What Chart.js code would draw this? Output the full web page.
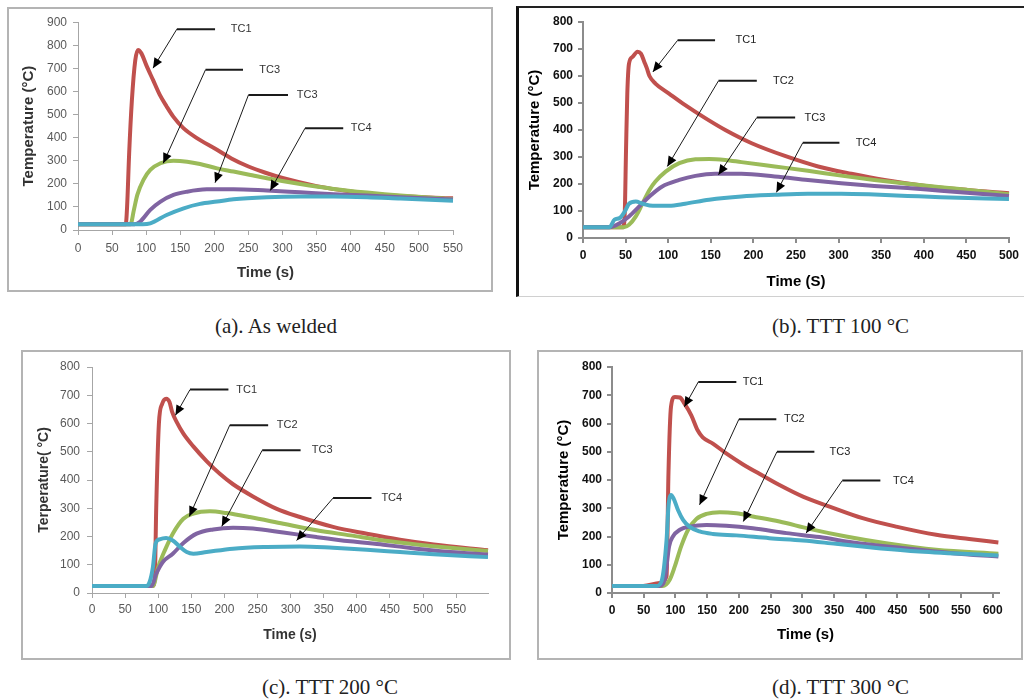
<!DOCTYPE html>
<html>
<head>
<meta charset="utf-8">
<script src="https://cdn.jsdelivr.net/npm/chart.js@4.4.1/dist/chart.umd.min.js"></script>
<style>
  body { margin: 0; background: #fff; width: 1024px; height: 700px; position: relative; overflow: hidden; }
  .frame { position: absolute; box-sizing: border-box; }
  canvas { position: absolute; }
  .cap { position: absolute; font-family: "Liberation Serif", "Times New Roman", serif; font-size: 21px; line-height: 21px; color: #222; white-space: nowrap; }
</style>
</head>
<body>

<div class="frame" style="left:7px;top:7px;width:486px;height:285px;border:2px solid #b4b4b4"></div>
<div class="frame" style="left:516px;top:6px;width:520px;height:291px;border-left:3px solid #111;border-top:2px solid #222;border-bottom:1px solid #d0d0d0"></div>
<div class="frame" style="left:21px;top:350px;width:490px;height:310px;border:2px solid #b4b4b4"></div>
<div class="frame" style="left:537px;top:350px;width:486px;height:310px;border:2px solid #b4b4b4"></div>

<canvas id="chartA" width="482" height="281" style="left:9px;top:9px"></canvas>
<canvas id="chartB" width="505" height="288" style="left:519px;top:8px"></canvas>
<canvas id="chartC" width="486" height="306" style="left:23px;top:352px"></canvas>
<canvas id="chartD" width="482" height="306" style="left:539px;top:352px"></canvas>

<div class="cap" style="left:215px;top:316px">(a). As welded</div>
<div class="cap" style="left:772px;top:316px">(b). TTT 100 °C</div>
<div class="cap" style="left:262px;top:677px">(c). TTT 200 °C</div>
<div class="cap" style="left:772px;top:677px">(d). TTT 300 °C</div>

<script>
// tick labels
const xTicksA = [0, 50, 100, 150, 200, 250, 300, 350, 400, 450, 500, 550];
const xTicksB = [0, 50, 100, 150, 200, 250, 300, 350, 400, 450, 500];
const xTicksC = [0, 50, 100, 150, 200, 250, 300, 350, 400, 450, 500, 550];
const xTicksD = [0, 50, 100, 150, 200, 250, 300, 350, 400, 450, 500, 550, 600];
const yTicks900 = [0, 100, 200, 300, 400, 500, 600, 700, 800, 900];
const yTicks800 = [0, 100, 200, 300, 400, 500, 600, 700, 800];

// (a) As welded
const timeA1 = [0, 70, 72, 75, 79, 84, 88, 93, 100, 110, 120, 130, 140, 155, 175, 200, 225, 250, 275, 300, 350, 400, 450, 500, 550];
const tempA1 = [25, 25, 100, 330, 560, 735, 780, 765, 715, 650, 585, 535, 490, 440, 397, 354, 310, 275, 248, 225, 190, 167, 152, 143, 137];
const timeA2 = [0, 77, 82, 87, 96, 106, 121, 140, 160, 179, 204, 228, 253, 277, 326, 375, 424, 473, 550];
const tempA2 = [25, 25, 87, 152, 217, 260, 289, 300, 296, 286, 267, 253, 238, 224, 199, 178, 162, 149, 134];
const timeA3 = [0, 83, 91, 106, 121, 140, 160, 189, 228, 277, 326, 375, 424, 473, 550];
const tempA3 = [25, 25, 36, 87, 123, 152, 166, 176, 177, 171, 163, 155, 149, 142, 132];
const timeA4 = [0, 95, 106, 130, 155, 179, 204, 228, 277, 326, 375, 424, 473, 550];
const tempA4 = [25, 25, 29, 65, 94, 113, 123, 133, 142, 145, 145, 142, 136, 127];

// (b) TTT 100 °C
const timeB1 = [0, 47, 49, 50.5, 52, 54, 58, 64, 68, 72, 75, 78, 85, 101, 120, 144, 167, 198, 237, 276, 315, 354, 400, 451, 500];
const tempB1 = [40, 40, 92, 326, 535, 646, 670, 690, 683, 652, 628, 600, 572, 535, 492, 443, 400, 351, 304, 265, 238, 215, 194, 178, 166];
const timeB2 = [0, 48, 54, 62, 70, 78, 85, 97, 113, 132, 148, 167, 186, 225, 264, 303, 342, 381, 420, 458, 500];
const tempB2 = [40, 40, 49, 80, 129, 178, 209, 246, 277, 292, 293, 289, 281, 265, 249, 231, 215, 201, 188, 176, 162];
const timeB3 = [0, 31, 43, 54, 66, 78, 93, 113, 132, 155, 186, 225, 264, 303, 342, 381, 420, 500];
const tempB3 = [40, 40, 55, 80, 117, 154, 191, 215, 230, 238, 238, 228, 215, 203, 193, 185, 175, 156];
const timeB4 = [0, 31, 37, 43, 49, 54, 62, 70, 82, 101, 120, 148, 186, 225, 264, 303, 342, 381, 420, 500];
const tempB4 = [40, 40, 68, 74, 98, 127, 135, 127, 119, 119, 127, 142, 154, 160, 164, 164, 161, 156, 151, 144];

// (c) TTT 200 °C
const timeC1 = [0, 92, 95, 97, 101, 106, 112, 117, 121, 128, 138, 153, 173, 193, 213, 243, 279, 314, 364, 415, 465, 516, 598];
const tempC1 = [25, 25, 68, 304, 599, 670, 688, 676, 641, 605, 564, 519, 467, 422, 385, 342, 298, 269, 234, 210, 189, 172, 151];
const timeC2 = [0, 92, 100, 110, 122, 138, 153, 178, 203, 238, 289, 339, 390, 440, 490, 541, 598];
const tempC2 = [25, 25, 92, 151, 210, 263, 281, 289, 283, 269, 245, 222, 204, 186, 172, 160, 149];
const timeC3 = [0, 90, 97, 107, 122, 138, 158, 183, 213, 243, 289, 339, 390, 440, 490, 541, 598];
const tempC3 = [25, 25, 68, 110, 139, 177, 210, 225, 231, 228, 214, 198, 183, 171, 157, 145, 136];
const timeC4 = [0, 82, 87, 92, 96, 102, 112, 122, 133, 143, 153, 173, 213, 264, 314, 364, 415, 465, 516, 598];
const tempC4 = [25, 25, 39, 92, 175, 190, 195, 186, 163, 145, 139, 145, 157, 163, 165, 160, 153, 145, 137, 127];

// (d) TTT 300 °C
const timeD1 = [0, 49, 75, 86, 89, 93, 99, 107, 114, 125, 135, 143, 159, 180, 206, 233, 264, 301, 343, 395, 448, 511, 563, 609];
const tempD1 = [25, 25, 35, 59, 424, 659, 694, 692, 671, 629, 576, 551, 529, 494, 456, 421, 382, 341, 306, 265, 235, 206, 191, 179];
const timeD2 = [0, 80, 91, 99, 109, 120, 133, 149, 170, 196, 222, 264, 311, 369, 432, 511, 609];
const tempD2 = [25, 25, 47, 94, 165, 224, 262, 280, 286, 282, 271, 253, 227, 200, 176, 153, 139];
const timeD3 = [0, 75, 83, 90, 96, 107, 122, 149, 180, 222, 275, 327, 380, 458, 537, 609];
const tempD3 = [25, 25, 47, 165, 200, 224, 235, 241, 238, 229, 212, 198, 179, 159, 141, 129];
const timeD4 = [0, 70, 78, 86, 89, 93, 97, 104, 112, 122, 138, 159, 196, 248, 301, 353, 406, 484, 609];
const tempD4 = [25, 25, 41, 188, 306, 347, 335, 294, 259, 235, 218, 209, 204, 194, 186, 174, 162, 147, 133];

// callouts: label, line start x, line end x, line y, label x, arrow tip x, arrow tip y (data units)
const notesA = [
  ['TC1', 145, 201, 870, 224, 110, 701],
  ['TC3', 187, 242, 694, 266, 125, 289],
  ['TC3', 250, 308, 585, 321, 201, 205],
  ['TC4', 333, 389, 441, 400, 282, 171]
];
const notesB = [
  ['TC1', 111, 155, 732, 179, 82, 615],
  ['TC2', 159, 204, 582, 223, 99, 265],
  ['TC3', 204, 249, 446, 260, 159, 234],
  ['TC4', 258, 301, 353, 320, 227, 169]
];
const notesC = [
  ['TC1', 148, 206, 720, 218, 126, 629],
  ['TC2', 208, 266, 594, 279, 147, 271],
  ['TC3', 257, 315, 505, 332, 196, 236],
  ['TC4', 364, 422, 336, 437, 309, 186]
];
const notesD = [
  ['TC1', 136, 196, 747, 206, 114, 659],
  ['TC2', 200, 259, 615, 271, 138, 312],
  ['TC3', 260, 319, 500, 343, 207, 253],
  ['TC4', 363, 423, 398, 443, 306, 212]
];

const colors = ['#C0504D', '#9BBB59', '#8064A2', '#4BACC6'];

function pts(times, temps) {
  return times.map((t, i) => ({ x: t, y: temps[i] }));
}

// callout lines with arrow heads
const calloutPlugin = {
  id: 'callouts',
  afterDatasetsDraw(chart, args, opts) {
    const { ctx } = chart;
    const xs = chart.scales.x, ys = chart.scales.y;
    ctx.save();
    opts.notes.forEach(n => {
      const px1 = xs.getPixelForValue(n[1]);
      const px2 = xs.getPixelForValue(n[2]);
      const py = ys.getPixelForValue(n[3]);
      const tx = xs.getPixelForValue(n[5]);
      const ty = ys.getPixelForValue(n[6]);
      ctx.strokeStyle = '#1a1a1a';
      ctx.lineWidth = 2;
      ctx.beginPath();
      ctx.moveTo(px1, py);
      ctx.lineTo(px2, py);
      ctx.stroke();
      ctx.lineWidth = 1;
      ctx.beginPath();
      ctx.moveTo(px1, py);
      ctx.lineTo(tx, ty);
      ctx.stroke();
      const a = Math.atan2(ty - py, tx - px1);
      const L = 10, W = 4.5;
      const bx = tx - L * Math.cos(a), by = ty - L * Math.sin(a);
      ctx.fillStyle = '#000';
      ctx.beginPath();
      ctx.moveTo(tx, ty);
      ctx.lineTo(bx + W * Math.sin(a), by - W * Math.cos(a));
      ctx.lineTo(bx - W * Math.sin(a), by + W * Math.cos(a));
      ctx.closePath();
      ctx.fill();
      ctx.fillStyle = opts.color;
      ctx.font = opts.font;
      ctx.textBaseline = 'middle';
      ctx.textAlign = 'left';
      ctx.fillText(n[0], xs.getPixelForValue(n[4]), py);
    });
    ctx.restore();
  }
};

function makeChart(id, p) {
  const cv = document.getElementById(id);
  const W = cv.width, H = cv.height;
  const lh = p.titleSize * 1.2;
  const tickFont = { family: 'Liberation Sans', size: p.tickSize, weight: p.tickWeight };
  const titleFont = { family: 'Liberation Sans', size: p.titleSize, weight: 'bold' };
  const axisGrid = { display: true, drawOnChartArea: false, drawTicks: true, tickLength: 5, color: p.axisColor, lineWidth: p.axisWidth };
  const axisBorder = { display: true, color: p.axisColor, width: p.axisWidth };

  new Chart(cv, {
    type: 'line',
    data: {
      datasets: p.series.map((s, i) => ({
        label: 'TC' + (i + 1),
        data: pts(s[0], s[1]),
        borderColor: colors[i],
        backgroundColor: colors[i],
        borderWidth: 4,
        pointRadius: 0,
        fill: false,
        cubicInterpolationMode: 'monotone',
        clip: 3,
        order: 4 - i
      }))
    },
    options: {
      responsive: false,
      animation: false,
      events: [],
      layout: { padding: { left: 0, bottom: 0, top: p.plot[1], right: W - p.plot[2] } },
      plugins: {
        legend: { display: false },
        tooltip: { enabled: false },
        callouts: { notes: p.notes, font: '11px "Liberation Sans"', color: p.noteColor }
      },
      scales: {
        x: {
          type: 'linear',
          min: 0,
          max: p.xMax,
          grid: axisGrid,
          border: axisBorder,
          ticks: { autoSkip: false, maxRotation: 0, font: tickFont, color: p.tickColor, padding: p.xPad },
          afterBuildTicks: s => { s.ticks = p.xTicks.map(v => ({ value: v })); },
          afterFit: s => { s.height = H - p.plot[3]; },
          title: { display: true, text: p.xTitle, font: titleFont, color: p.titleColor,
                   padding: { top: 0, bottom: (H - p.xTitleY) - lh / 2 } }
        },
        y: {
          min: 0,
          max: p.yMax,
          grid: axisGrid,
          border: axisBorder,
          ticks: { autoSkip: false, font: tickFont, color: p.tickColor, padding: p.yPad },
          afterBuildTicks: s => { s.ticks = p.yTicks.map(v => ({ value: v })); },
          afterFit: s => { s.width = p.plot[0]; },
          title: { display: true, text: p.yTitle, font: titleFont, color: p.titleColor,
                   padding: { top: p.yTitleX - lh / 2, bottom: 0 } }
        }
      }
    },
    plugins: [calloutPlugin]
  });
}

makeChart('chartA', {
  series: [[timeA1, tempA1], [timeA2, tempA2], [timeA3, tempA3], [timeA4, tempA4]],
  notes: notesA, xMax: 550, yMax: 900, xTicks: xTicksA, yTicks: yTicks900,
  plot: [69, 13, 444, 221], yTitleX: 20, xTitleY: 264,
  xTitle: 'Time (s)', yTitle: 'Temperature (°C)',
  tickSize: 12, tickWeight: 'normal', tickColor: '#595959', titleSize: 15, titleColor: '#333',
  axisColor: '#a6a6a6', axisWidth: 1, xPad: 6, yPad: 6, noteColor: '#333'
});

makeChart('chartB', {
  series: [[timeB1, tempB1], [timeB2, tempB2], [timeB3, tempB3], [timeB4, tempB4]],
  notes: notesB, xMax: 500, yMax: 800, xTicks: xTicksB, yTicks: yTicks800,
  plot: [64, 14, 493, 230], yTitleX: 16, xTitleY: 274,
  xTitle: 'Time (S)', yTitle: 'Temperature (°C)',
  tickSize: 12, tickWeight: 'bold', tickColor: '#111', titleSize: 15, titleColor: '#000',
  axisColor: '#8c8c8c', axisWidth: 2, xPad: 5, yPad: 5, noteColor: '#222'
});

makeChart('chartC', {
  series: [[timeC1, tempC1], [timeC2, tempC2], [timeC3, tempC3], [timeC4, tempC4]],
  notes: notesC, xMax: 598, yMax: 800, xTicks: xTicksC, yTicks: yTicks800,
  plot: [69, 15, 465, 241], yTitleX: 21, xTitleY: 283,
  xTitle: 'Time (s)', yTitle: 'Terperature( °C)',
  tickSize: 12, tickWeight: 'normal', tickColor: '#595959', titleSize: 14, titleColor: '#333',
  axisColor: '#a6a6a6', axisWidth: 1, xPad: 4, yPad: 7, noteColor: '#333'
});

makeChart('chartD', {
  series: [[timeD1, tempD1], [timeD2, tempD2], [timeD3, tempD3], [timeD4, tempD4]],
  notes: notesD, xMax: 610, yMax: 800, xTicks: xTicksD, yTicks: yTicks800,
  plot: [73, 15, 460, 241], yTitleX: 25, xTitleY: 283,
  xTitle: 'Time (s)', yTitle: 'Temperature (°C)',
  tickSize: 12, tickWeight: 'bold', tickColor: '#111', titleSize: 15, titleColor: '#000',
  axisColor: '#8c8c8c', axisWidth: 2, xPad: 5, yPad: 5, noteColor: '#222'
});
</script>
</body>
</html>
